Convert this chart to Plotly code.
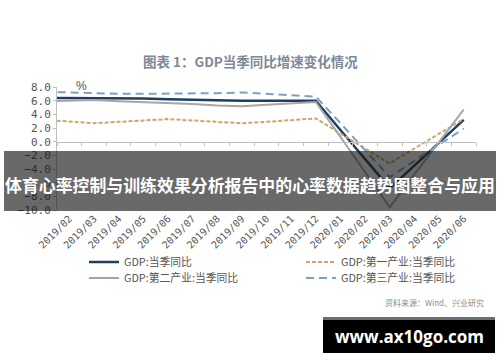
import plotly.graph_objects as go

months = ["2019/01", "2019/02", "2019/03", "2019/04", "2019/05", "2019/06", "2019/07",
          "2019/08", "2019/09", "2019/10", "2019/11", "2019/12", "2020/01", "2020/02",
          "2020/03", "2020/04", "2020/05", "2020/06"]

gdp = [6.4, 6.4, 6.4, 6.3, 6.3, 6.2, 6.1, 6.1, 6.0, 6.0, 6.0, 6.0, 1.7, -2.5, -6.8, -3.5, -0.2, 3.2]
primary = [3.2, 2.9, 2.7, 2.9, 3.1, 3.3, 3.1, 2.9, 2.7, 2.9, 3.2, 3.4, 1.2, -1.0, -3.2, -1.0, 1.2, 3.3]
secondary = [5.9, 6.0, 6.1, 5.9, 5.8, 5.6, 5.5, 5.3, 5.2, 5.4, 5.6, 5.8, 0.7, -4.5, -9.6, -4.8, 0.0, 4.7]
tertiary = [7.3, 7.2, 7.0, 7.0, 7.0, 7.0, 7.1, 7.1, 7.2, 7.0, 6.8, 6.6, 2.7, -1.3, -5.2, -2.8, -0.4, 1.9]

names = ["GDP:当季同比", "GDP:第一产业:当季同比", "GDP:第二产业:当季同比", "GDP:第三产业:当季同比"]

title_text = "图表 1：GDP当季同比增速变化情况"
banner_text = "体育心率控制与训练效果分析报告中的心率数据趋势图整合与应用"
source_text = "资料来源：Wind、兴业研究"
watermark_text = "www.ax10go.com"

W, H = 500, 362
L, R, T, B = 57, 24, 87, 152
pw, ph = W - L - R, H - T - B


def px(x):
    return (x - L) / pw


def py(y):
    return (H - B - y) / ph


fig = go.Figure()
fig.add_trace(go.Scatter(x=months, y=gdp, name=names[0], mode="lines", legend="legend",
                         line=dict(color="#1c3f63", width=2.5)))
fig.add_trace(go.Scatter(x=months, y=primary, name=names[1], mode="lines", legend="legend2",
                         line=dict(color="#c9a86a", width=2, dash="4px,2px")))
fig.add_trace(go.Scatter(x=months, y=secondary, name=names[2], mode="lines", legend="legend3",
                         line=dict(color="#a6a6a6", width=2)))
fig.add_trace(go.Scatter(x=months, y=tertiary, name=names[3], mode="lines", legend="legend4",
                         line=dict(color="#7f9fbf", width=2, dash="8px,5px")))

legend_font = dict(family="Noto Sans CJK SC", size=10.8, color="#555555")


def leg(x, y):
    return dict(orientation="v", x=px(x), y=py(y), xanchor="left", yanchor="middle",
                font=legend_font, bgcolor="rgba(0,0,0,0)", itemwidth=30)


fig.update_layout(
    width=W, height=H,
    margin=dict(l=L, r=R, t=T, b=B),
    paper_bgcolor="white", plot_bgcolor="white",
    showlegend=True,
    legend=leg(84, 262),
    legend2=leg(301, 262),
    legend3=leg(84, 278),
    legend4=leg(301, 278),
    xaxis=dict(type="category", range=[0.5, 17.5], showline=False, ticks="",
               showgrid=False, zeroline=False, tickangle=-45,
               tickfont=dict(family="DejaVu Sans Mono", size=10, color="#555555")),
    xaxis2=dict(overlaying="x", anchor="free", position=10 / 18, type="linear",
                range=[0.5, 17.5], tick0=0.5, dtick=1, ticks="outside", ticklen=3,
                tickcolor="#bfbfbf", showticklabels=False, showline=True,
                linecolor="#bfbfbf", linewidth=1, showgrid=False, zeroline=False),
    yaxis=dict(range=[-10, 8], dtick=2, tickformat=".1f", ticks="outside", ticklen=3,
               tickcolor="#bfbfbf", showline=True, linecolor="#bfbfbf", linewidth=1,
               showgrid=False, zeroline=False,
               tickfont=dict(family="DejaVu Sans Mono", size=11, color="#555555")),
)

# invisible trace to keep the zero-line axis alive
fig.add_trace(go.Scatter(x=[1, 17], y=[0, 0], xaxis="x2", mode="lines",
                         line=dict(width=0), showlegend=False, hoverinfo="skip"))


def note(text, x, y, font, xanchor="center"):
    fig.add_annotation(text=text, x=px(x), y=py(y), xref="paper", yref="paper",
                       xanchor=xanchor, yanchor="middle", showarrow=False, font=font)


note("%", 81, 86, dict(family="Liberation Sans", size=12, color="#555555"))
note("<b>" + title_text + "</b>", 250, 61, dict(family="Noto Sans CJK SC", size=13.5, color="#7d8898"))
note(source_text, 486, 302, dict(family="Noto Sans CJK SC", size=8, color="#8c8c8c"), xanchor="right")

# overlay banner
fig.add_shape(type="rect", xref="paper", yref="paper", x0=px(4), x1=px(496), y0=py(211), y1=py(151),
              fillcolor="rgba(20,20,20,0.64)", line=dict(width=0), layer="above")
note("<b>" + banner_text + "</b>", 250, 184, dict(family="Noto Sans CJK SC", size=16.9, color="white"))

# watermark
fig.add_shape(type="rect", xref="paper", yref="paper", x0=px(323), x1=px(495), y0=py(320), y1=py(317),
              fillcolor="#6e6e6e", line=dict(width=0), layer="above")
fig.add_shape(type="rect", xref="paper", yref="paper", x0=px(323), x1=px(495), y0=py(353), y1=py(320),
              fillcolor="black", line=dict(width=0), layer="above")
note("<b>" + watermark_text + "</b>", 409, 336, dict(family="Open Sans", size=17, color="white"))

fig.write_html("out.html")
